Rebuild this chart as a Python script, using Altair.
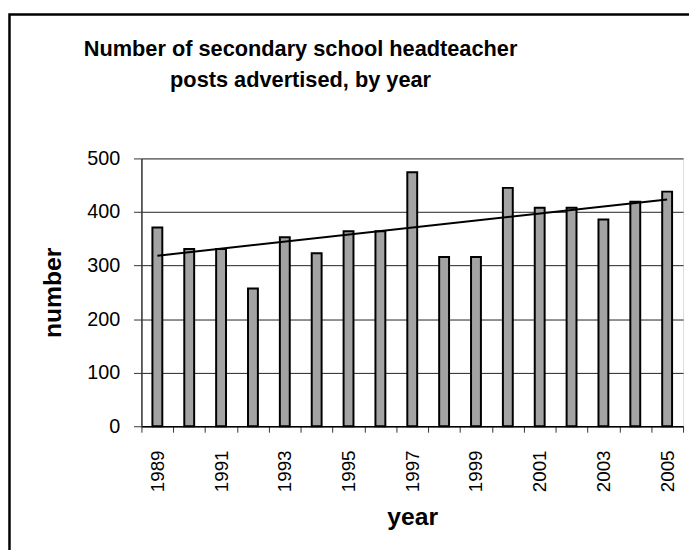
import altair as alt
import pandas as pd

years = [1989, 1990, 1991, 1992, 1993, 1994, 1995, 1996, 1997,
         1998, 1999, 2000, 2001, 2002, 2003, 2004, 2005]
posts = [371, 331, 331, 257, 353, 323, 364, 364, 474,
         316, 316, 445, 408, 408, 386, 419, 438]
y_ticks = [0, 100, 200, 300, 400, 500]
title_lines = ["Number of secondary school headteacher", "posts advertised, by year"]

df = pd.DataFrame({"year": years, "number": posts})
FONT = "Liberation Sans"

x_enc = alt.X(
    "year:O",
    scale=alt.Scale(paddingInner=0, paddingOuter=0),
    axis=alt.Axis(
        title="year", labelAngle=270, labelFontSize=19, labelFont=FONT,
        labelColor="black", labelPadding=18,
        labelExpr="datum.value % 2 == 1 ? datum.label : ''",
        tickBand="extent", tickSize=6, tickColor="#333333", tickWidth=1,
        domainColor="#000000", domainWidth=1.5,
        titleFont=FONT, titleFontSize=25, titleFontWeight="bold", titleColor="black",
        titleY=99, titleBaseline="alphabetic", grid=False,
    ),
)
y_enc = alt.Y(
    "number:Q",
    scale=alt.Scale(domain=[0, 500], nice=False),
    axis=alt.Axis(
        title="number", values=y_ticks, labelFontSize=20, labelFont=FONT,
        labelColor="black", labelPadding=14, tickSize=8, tickColor="#333333",
        domainColor="#333333", domainWidth=1.5,
        grid=True, gridColor="#222222", gridWidth=1,
        titleFont=FONT, titleFontSize=25, titleFontWeight="bold", titleColor="black",
        titleX=-90, titleY=135.5, titleBaseline="middle", titleAngle=270,
    ),
)

bars = alt.Chart(df).mark_bar(
    size=10, fill="#a3a3a3", stroke="black", strokeWidth=2
).encode(x=x_enc, y=y_enc)

trend = alt.Chart(df).transform_regression(
    "year", "number", method="linear"
).mark_line(color="black", strokeWidth=2).encode(
    x=alt.X("year:O"), y=alt.Y("number:Q")
)

frame = alt.Chart(alt.Data(values=[{"k": 1}])).mark_rect(
    filled=False, stroke="black", strokeWidth=2.5
).encode(
    x=alt.value(-133.5), x2=alt.value(700), y=alt.value(-145.5), y2=alt.value(700)
)

chart = alt.layer(frame, bars, trend).properties(
    width=548, height=271,
    autosize=alt.AutoSizeParams(type="none"),
    padding={"left": 135, "top": 149, "right": 6, "bottom": 122},
    title=alt.TitleParams(
        title_lines, font=FONT, fontSize=22, fontWeight="bold", color="black",
        lineHeight=32, anchor="middle", dx=-113, offset=0, dy=97,
        baseline="alphabetic",
    ),
).configure_view(
    fill="#c0c0c0", stroke="#808080", strokeWidth=2
).configure(background="white")

chart.save("out.html", embed_options={"renderer": "svg", "actions": False})
